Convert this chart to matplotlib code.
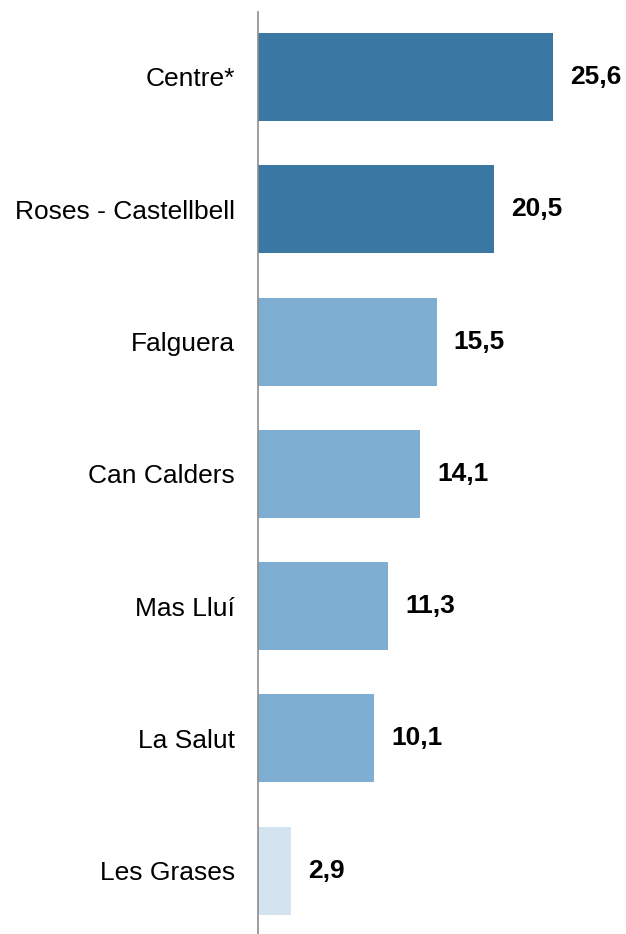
import matplotlib.pyplot as plt

# data
barris = ['Centre*', 'Roses - Castellbell', 'Falguera', 'Can Calders',
          'Mas Lluí', 'La Salut', 'Les Grases']
valors = [25.6, 20.5, 15.5, 14.1, 11.3, 10.1, 2.9]
colors = ['#3a78a3', '#3a78a3', '#7eafd3', '#7eafd3',
          '#7eafd3', '#7eafd3', '#d3e3f0']

plt.rcParams['font.family'] = ['Liberation Sans', 'DejaVu Sans']

fig = plt.figure(figsize=(6.26, 9.34), dpi=100)
ax = fig.add_axes([258 / 626, 0, 368 / 626, 1])

pos = range(len(barris))
ax.barh(pos, valors, height=0.665, color=colors)

for i, v in enumerate(valors):
    ax.text(v + 1.45, i, f'{v:.1f}'.replace('.', ','), va='center', ha='left',
            fontsize=19, fontweight='bold', color='black')

ax.set_yticks(list(pos))
ax.set_yticklabels(barris, fontsize=19)
ax.tick_params(axis='y', length=0, pad=16.5)
ax.set_xticks([])
ax.set_xlim(0, 31.94)
ax.set_ylim(6.478, -0.582)

for s in ['top', 'right', 'bottom']:
    ax.spines[s].set_visible(False)
ax.spines['left'].set_color('#8c8c8c')
ax.spines['left'].set_linewidth(1.2)
ax.spines['left'].set_bounds(-0.49, 6.478)

fig.savefig('out.png', dpi=100)
